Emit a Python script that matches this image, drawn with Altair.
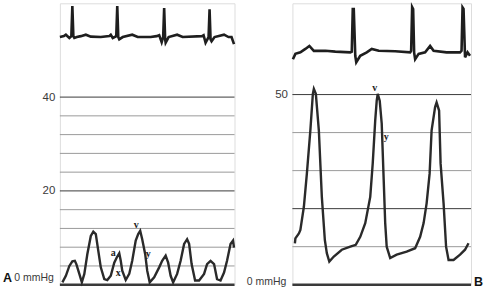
import altair as alt
import pandas as pd

# ---------- Panel A (0-60 mmHg scale) ----------
a_press_t = [0.05, 0.12, 0.19, 0.25, 0.30, 0.33, 0.39, 0.44, 0.49, 0.55, 0.62, 0.67, 0.72, 0.77, 0.82, 0.89,
             0.95, 1.02, 1.09, 1.14, 1.19, 1.22, 1.25, 1.32, 1.39, 1.45, 1.52, 1.57, 1.61, 1.65, 1.71, 1.75,
             1.80, 1.89, 1.99, 2.05, 2.12, 2.17, 2.22, 2.27, 2.35, 2.42, 2.49, 2.55, 2.59, 2.64, 2.71, 2.79,
             2.89, 2.95, 3.02, 3.09, 3.15, 3.22, 3.29, 3.35, 3.42, 3.47, 3.49]
a_press_v = [0.5, 1.9, 4.0, 5.0, 5.1, 4.4, 2.3, 0.5, 2.3, 6.5, 10.4, 11.3, 10.8, 7.2, 3.7, 1.2,
             1.0, 1.9, 4.7, 5.8, 6.7, 5.1, 3.0, 1.0, 2.3, 5.1, 9.4, 10.8, 11.5, 9.7, 6.5, 3.0,
             0.5, 1.6, 3.7, 5.1, 6.2, 4.7, 1.9, 0.5, 2.3, 5.1, 8.7, 9.7, 8.7, 4.4, 0.9, 0.9,
             2.3, 4.4, 5.1, 4.4, 1.2, 0.9, 2.6, 5.1, 8.7, 9.4, 7.9]

a_ecg_t = [0.00, 0.08, 0.12, 0.19, 0.23, 0.25, 0.27, 0.29, 0.34, 0.42, 0.52, 0.62, 0.82, 0.99, 1.02, 1.06,
           1.13, 1.15, 1.17, 1.19, 1.26, 1.45, 1.56, 1.82, 1.94, 1.99, 2.04, 2.07, 2.09, 2.11, 2.12, 2.18,
           2.35, 2.46, 2.85, 2.88, 2.92, 2.98, 3.00, 3.02, 3.04, 3.10, 3.29, 3.38, 3.44, 3.49]
a_ecg_v = [52.8, 53.0, 53.3, 52.6, 53.0, 59.4, 53.0, 52.6, 52.8, 53.0, 53.3, 52.9, 52.8, 53.0, 53.3, 52.6,
           53.0, 59.4, 52.8, 52.3, 52.8, 53.3, 52.8, 52.8, 53.0, 53.2, 51.7, 52.8, 59.0, 52.3, 51.6, 52.8,
           53.3, 52.8, 53.0, 53.2, 51.6, 52.8, 58.7, 52.3, 51.9, 52.8, 53.3, 52.8, 52.8, 51.3]

a_grid_minor = [4, 8, 12, 16, 24, 28, 32, 36]
a_grid_major = [20, 40]
a_ticks = [20, 40]
a_notes = ["v", "a", "x", "y"]
a_notes_t = [1.53, 1.07, 1.17, 1.77]
a_notes_v = [12.8, 6.7, 2.5, 6.5]

# ---------- Panel B (0-74 mmHg scale) ----------
b_press_t = [0.05, 0.06, 0.13, 0.16, 0.23, 0.29, 0.36, 0.41, 0.43, 0.47, 0.53, 0.59, 0.65, 0.69, 0.74, 0.83,
             0.99, 1.16, 1.27, 1.36, 1.46, 1.56, 1.61, 1.66, 1.69, 1.71, 1.75, 1.79, 1.83, 1.86, 1.89, 1.96,
             2.09, 2.29, 2.46, 2.56, 2.63, 2.69, 2.75, 2.79, 2.86, 2.89, 2.94, 2.97, 3.03, 3.08, 3.13, 3.23,
             3.36, 3.46, 3.53]
b_press_v = [10.9, 12.2, 13.5, 14.4, 20.5, 29.2, 40.6, 50.2, 51.5, 50.2, 40.6, 23.1, 11.8, 8.3, 6.1, 7.4,
             9.2, 10.0, 10.5, 12.6, 16.2, 23.1, 31.9, 43.2, 48.4, 50.2, 48.4, 42.4, 27.5, 16.2, 10.0, 7.0,
             7.9, 8.7, 9.6, 12.6, 16.2, 21.4, 29.2, 40.6, 46.7, 47.9, 45.8, 31.9, 21.4, 10.0, 6.5, 6.5,
             7.9, 9.2, 10.9]

b_ecg_t = [0.01, 0.06, 0.16, 0.26, 0.34, 0.43, 0.66, 0.86, 1.16, 1.19, 1.21, 1.23, 1.26, 1.28, 1.36, 1.49,
           1.59, 1.73, 2.06, 2.36, 2.38, 2.40, 2.42, 2.44, 2.46, 2.53, 2.66, 2.76, 2.83, 3.09, 3.36, 3.39,
           3.41, 3.43, 3.46, 3.51, 3.56]
b_ecg_v = [59.3, 60.7, 61.1, 62.0, 62.8, 61.5, 61.5, 61.3, 61.1, 61.3, 72.5, 72.5, 60.2, 58.5, 60.2, 61.1,
           62.0, 61.5, 61.4, 61.1, 61.5, 73.0, 72.5, 61.0, 59.3, 60.7, 61.1, 62.8, 61.5, 61.1, 61.1, 61.5,
           72.9, 72.5, 59.8, 61.1, 60.2]

b_grid_minor = [10, 30, 40]
b_grid_major = [20, 50]
b_ticks = [50]
b_notes = ["v", "y"]
b_notes_t = [1.65, 1.88]
b_notes_v = [51.8, 38.8]

FONT = "Liberation Sans"
TXT = "#3a3a3a"


def panel(press_t, press_v, ecg_t, ecg_v, grid_minor, grid_major, ticks, notes, notes_t, notes_v,
          xmax, ymax, width, letter, letter_x, zero_dy):
    xs = alt.Scale(domain=[0, xmax], nice=False, zero=False)
    ys = alt.Scale(domain=[0, ymax], nice=False)
    xenc = lambda f: alt.X(f, type="quantitative", scale=xs, axis=None)

    press = pd.DataFrame({"t": press_t, "v": press_v})
    ecg = pd.DataFrame({"t": ecg_t, "v": ecg_v})
    gmin = pd.DataFrame({"g": grid_minor})
    gmaj = pd.DataFrame({"g": grid_major})
    nts = pd.DataFrame({"t": notes_t, "v": notes_v, "s": notes})

    yaxis = alt.Axis(values=ticks, grid=False, domain=False, ticks=False, title=None,
                     labelFont=FONT, labelFontSize=11.5, labelColor=TXT, labelPadding=5)

    minor = alt.Chart(gmin).mark_rule(color="#9a9a9a", strokeWidth=1).encode(
        y=alt.Y("g:Q", scale=ys, axis=yaxis))
    major = alt.Chart(gmaj).mark_rule(color="#3a3a3a", strokeWidth=1).encode(
        y=alt.Y("g:Q", scale=ys))
    bottom = alt.Chart(pd.DataFrame({"g": [0]})).mark_rule(color="#3a3a3a", strokeWidth=2.5).encode(
        y=alt.Y("g:Q", scale=ys))
    p_line = alt.Chart(press).mark_line(color="#2a2a2a", strokeWidth=2.4).encode(
        x=xenc("t"), y=alt.Y("v:Q", scale=ys))
    e_line = alt.Chart(ecg).mark_line(color="#1e1e1e", strokeWidth=2.6).encode(
        x=xenc("t"), y=alt.Y("v:Q", scale=ys))
    note = alt.Chart(nts).mark_text(font="Liberation Serif", fontSize=10, fontWeight="bold",
                                    color="#222222").encode(
        x=xenc("t"), y=alt.Y("v:Q", scale=ys), text="s:N")
    zero_lbl = alt.Chart(pd.DataFrame({"s": ["0 mmHg"]})).mark_text(
        font=FONT, fontSize=10.5, color=TXT, align="right", baseline="middle", dy=zero_dy).encode(
        x=alt.value(-6), y=alt.datum(0), text="s:N")
    let = alt.Chart(pd.DataFrame({"s": [letter]})).mark_text(
        font=FONT, fontSize=12.5, fontWeight="bold", color="#111111", align="left", baseline="middle",
        dy=zero_dy).encode(x=alt.value(letter_x), y=alt.datum(0), text="s:N")

    return alt.layer(minor, major, bottom, p_line, e_line, note, zero_lbl, let).properties(
        width=width, height=282)


pa = panel(a_press_t, a_press_v, a_ecg_t, a_ecg_v, a_grid_minor, a_grid_major, a_ticks,
           a_notes, a_notes_t, a_notes_v, 3.5, 60, 175, "A", -57, -7)
pb = panel(b_press_t, b_press_v, b_ecg_t, b_ecg_v, b_grid_minor, b_grid_major, b_ticks,
           b_notes, b_notes_t, b_notes_v, 3.58, 74, 179, "B", 182, -3)

chart = alt.hconcat(pa, pb, spacing=58, bounds="flush").properties(
    padding={"left": 2, "top": 0, "right": 0, "bottom": 0}
).configure_view(stroke="#8a8a8a", strokeWidth=1).configure(background="white")

chart.save("out.html", embed_options={"renderer": "svg", "actions": False})
